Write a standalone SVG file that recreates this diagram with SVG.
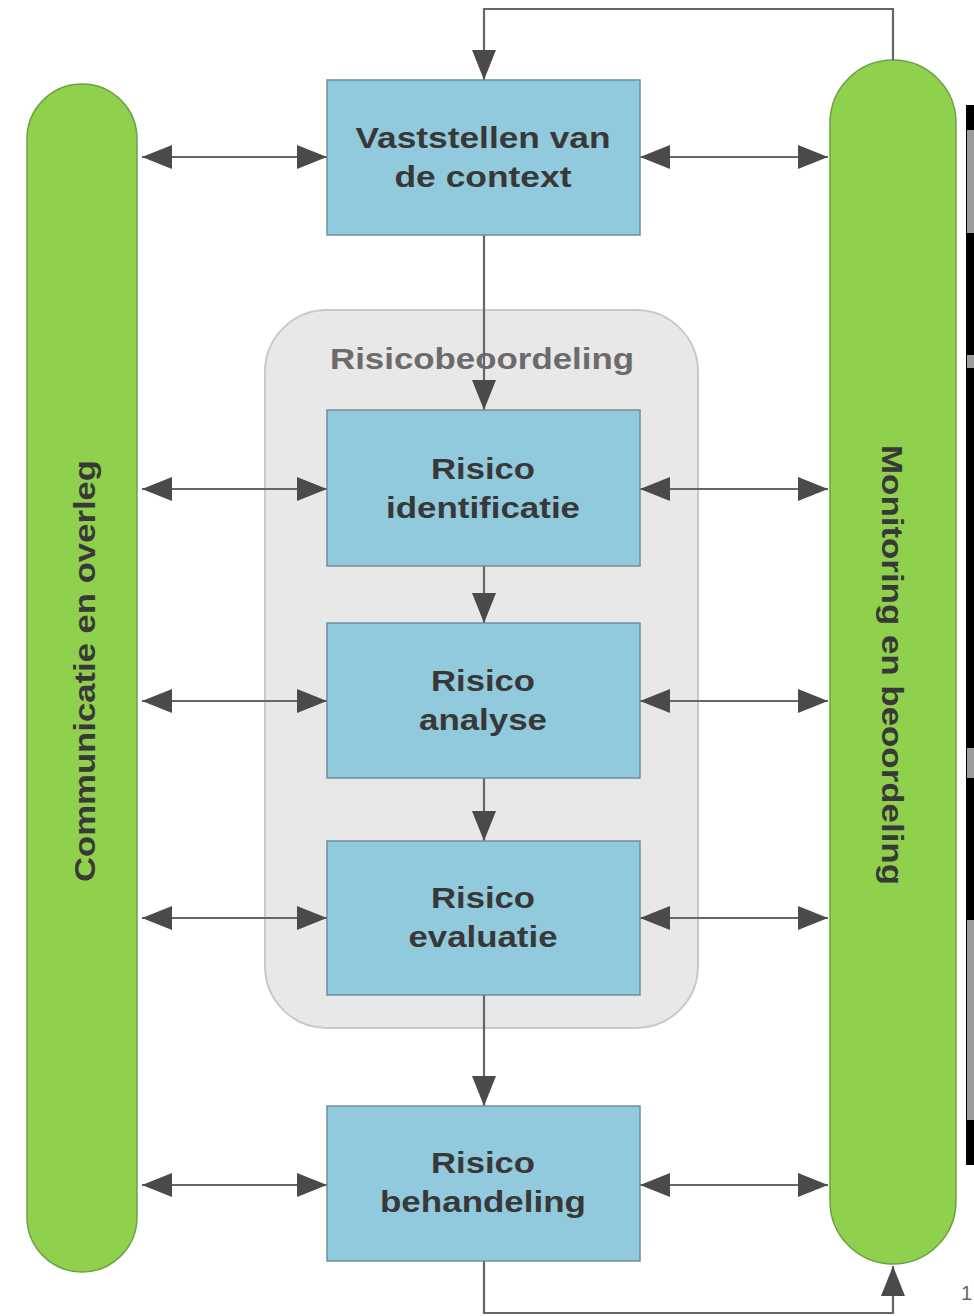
<svg xmlns="http://www.w3.org/2000/svg" width="974" height="1316" viewBox="0 0 974 1316">
<style>
.pill{fill:#8fd04c;stroke:#6f9f45;stroke-width:1.5}
.box{fill:#92cadd;stroke:#6f8f9c;stroke-width:1.5}
.lbl{font-family:"Liberation Sans",Arial,sans-serif;font-weight:bold;font-size:30px;fill:#383838;text-anchor:middle}
.side{font-family:"Liberation Sans",Arial,sans-serif;font-weight:bold;font-size:29px;fill:#383838;text-anchor:middle}
.ln{stroke:#666;stroke-width:2.2;fill:none}
</style>
<defs>
<marker id="ah" viewBox="0 0 30 24" refX="30" refY="12" markerWidth="30" markerHeight="24" markerUnits="userSpaceOnUse" orient="auto-start-reverse">
<path d="M0,0 L30,12 L0,24 Z" fill="#4a4a4a"/>
</marker>
</defs>
<rect width="974" height="1316" fill="#fff"/>
<g id="artifact">
<rect x="966" y="105" width="8" height="1060" fill="#000"/>
<rect x="967" y="130" width="7" height="103" fill="#9c9c9c"/>
<rect x="967" y="355" width="7" height="13" fill="#9c9c9c"/>
<rect x="967" y="748" width="7" height="30" fill="#9c9c9c"/>
<rect x="967" y="920" width="7" height="200" fill="#9c9c9c"/>
<text x="961" y="1300" font-family="Liberation Sans,Arial,sans-serif" font-size="20" fill="#666">1</text>
</g>
<g id="risicobeoordeling">
<rect x="265" y="310" width="433" height="718" rx="62" fill="#e8e8e8" stroke="#c9c9c9" stroke-width="2"/>
<text x="482" y="369" font-family="Liberation Sans,Arial,sans-serif" font-weight="bold" font-size="29" fill="#6b6b6b" text-anchor="middle" textLength="304" lengthAdjust="spacingAndGlyphs">Risicobeoordeling</text>
</g>
<g id="communicatie">
<rect class="pill" x="27" y="84" width="110" height="1188" rx="55"/>
<text class="side" transform="translate(95,671) rotate(-90)" textLength="422" lengthAdjust="spacingAndGlyphs">Communicatie en overleg</text>
</g>
<g id="monitoring">
<rect class="pill" x="830" y="60" width="126" height="1204" rx="63"/>
<text class="side" transform="translate(882,665) rotate(90)" textLength="440" lengthAdjust="spacingAndGlyphs">Monitoring en beoordeling</text>
</g>
<g id="connectors">
<path class="ln" d="M893,60 V9 H484 V80" marker-end="url(#ah)"/>
<path class="ln" d="M484,235 V410" marker-end="url(#ah)"/>
<path class="ln" d="M484,566 V623" marker-end="url(#ah)"/>
<path class="ln" d="M484,778 V841" marker-end="url(#ah)"/>
<path class="ln" d="M484,995 V1106" marker-end="url(#ah)"/>
<path class="ln" d="M484,1261 V1313 H893 V1266" marker-end="url(#ah)"/>
<path class="ln" d="M142,157 H327" marker-start="url(#ah)" marker-end="url(#ah)"/>
<path class="ln" d="M640,157 H828" marker-start="url(#ah)" marker-end="url(#ah)"/>
<path class="ln" d="M142,489 H327" marker-start="url(#ah)" marker-end="url(#ah)"/>
<path class="ln" d="M640,489 H828" marker-start="url(#ah)" marker-end="url(#ah)"/>
<path class="ln" d="M142,701 H327" marker-start="url(#ah)" marker-end="url(#ah)"/>
<path class="ln" d="M640,701 H828" marker-start="url(#ah)" marker-end="url(#ah)"/>
<path class="ln" d="M142,918 H327" marker-start="url(#ah)" marker-end="url(#ah)"/>
<path class="ln" d="M640,918 H828" marker-start="url(#ah)" marker-end="url(#ah)"/>
<path class="ln" d="M142,1185 H327" marker-start="url(#ah)" marker-end="url(#ah)"/>
<path class="ln" d="M640,1185 H828" marker-start="url(#ah)" marker-end="url(#ah)"/>
</g>
<g id="context">
<rect class="box" x="327" y="80" width="313" height="155"/>
<text class="lbl" x="483" y="148" textLength="255" lengthAdjust="spacingAndGlyphs">Vaststellen van</text>
<text class="lbl" x="483" y="187" textLength="177" lengthAdjust="spacingAndGlyphs">de context</text>
</g>
<g id="identificatie">
<rect class="box" x="327" y="410" width="313" height="156"/>
<text class="lbl" x="483" y="479" textLength="104" lengthAdjust="spacingAndGlyphs">Risico</text>
<text class="lbl" x="483" y="518" textLength="194" lengthAdjust="spacingAndGlyphs">identificatie</text>
</g>
<g id="analyse">
<rect class="box" x="327" y="623" width="313" height="155"/>
<text class="lbl" x="483" y="691" textLength="104" lengthAdjust="spacingAndGlyphs">Risico</text>
<text class="lbl" x="483" y="730" textLength="128" lengthAdjust="spacingAndGlyphs">analyse</text>
</g>
<g id="evaluatie">
<rect class="box" x="327" y="841" width="313" height="154"/>
<text class="lbl" x="483" y="908" textLength="104" lengthAdjust="spacingAndGlyphs">Risico</text>
<text class="lbl" x="483" y="947" textLength="149" lengthAdjust="spacingAndGlyphs">evaluatie</text>
</g>
<g id="behandeling">
<rect class="box" x="327" y="1106" width="313" height="155"/>
<text class="lbl" x="483" y="1173" textLength="104" lengthAdjust="spacingAndGlyphs">Risico</text>
<text class="lbl" x="483" y="1212" textLength="206" lengthAdjust="spacingAndGlyphs">behandeling</text>
</g>
</svg>
